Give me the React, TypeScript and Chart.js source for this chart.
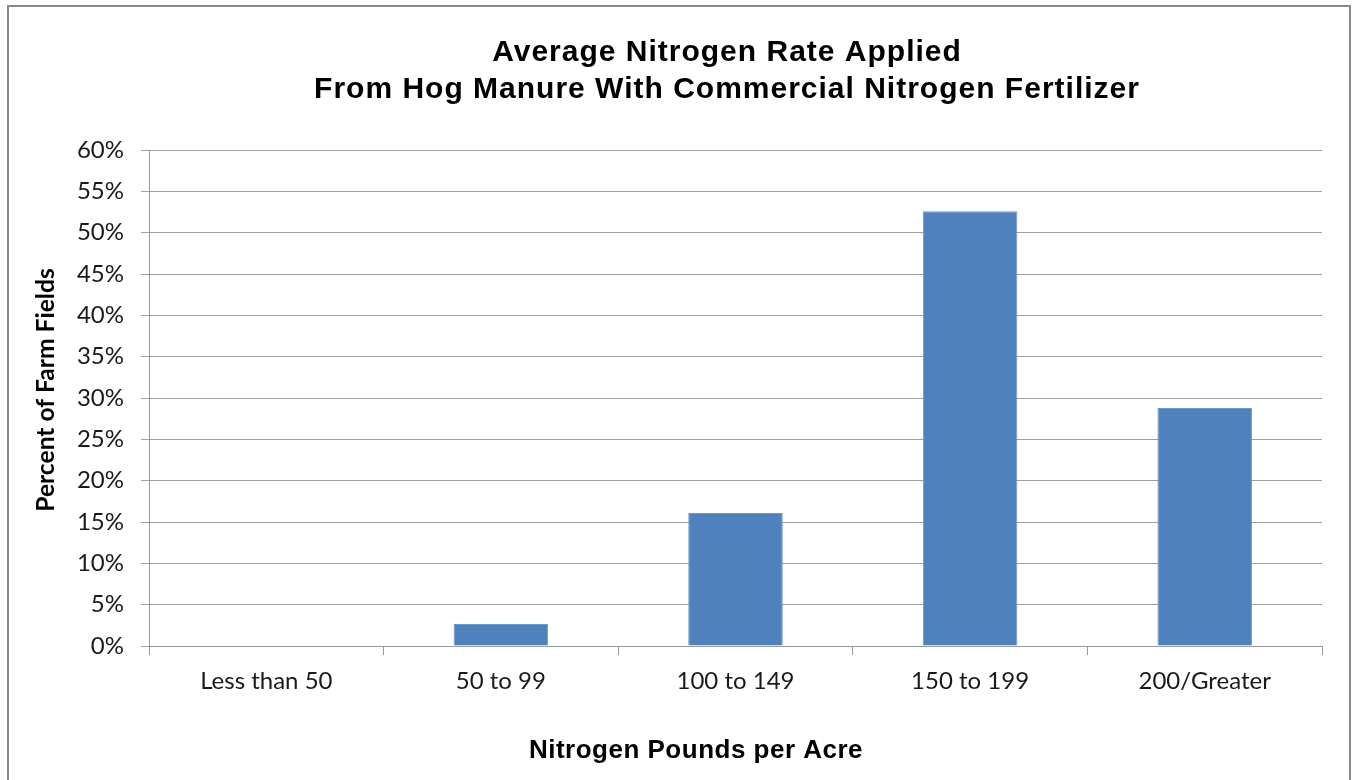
import React, { useEffect, useRef } from "react";
import { Chart, registerables } from "chart.js";

Chart.register(...registerables);

const categories = ["Less than 50", "50 to 99", "100 to 149", "150 to 199", "200/Greater"];
const percentValues = [0, 2.65, 16.1, 52.6, 28.8];
const yMin = 0;
const yMax = 60;
const yStep = 5;
const titleLines = ["Average Nitrogen Rate Applied", "From Hog Manure With Commercial Nitrogen Fertilizer"];
const xAxisTitle = "Nitrogen Pounds per Acre";
const yAxisTitle = "Percent of Farm Fields";

const W = 1355;
const H = 780;

const textPlugin = {
  id: "excelText",
  afterDraw(chart: any) {
    const ctx = chart.ctx as any;
    ctx.save();
    ctx.fillStyle = "#000";
    ctx.textAlign = "center";
    ctx.textBaseline = "alphabetic";
    ctx.letterSpacing = "1px";
    ctx.font = "bold 30px 'Liberation Sans', Arial, sans-serif";
    ctx.fillText(titleLines[0], 727, 61);
    ctx.fillText(titleLines[1], 727, 98);
    ctx.letterSpacing = "0.5px";
    ctx.font = "bold 26px 'Liberation Sans', Arial, sans-serif";
    ctx.fillText(xAxisTitle, 696, 758);
    ctx.letterSpacing = "0px";
    ctx.translate(46, 390);
    ctx.rotate(-Math.PI / 2);
    ctx.textBaseline = "middle";
    ctx.font = "bold 24.6px Lato, 'Open Sans', sans-serif";
    ctx.fillText(yAxisTitle, 0, 0);
    ctx.restore();
  },
};

export default function App() {
  const ref = useRef<HTMLCanvasElement | null>(null);
  useEffect(() => {
    if (!ref.current) return;
    const chart = new Chart(ref.current, {
      type: "bar",
      data: {
        labels: categories,
        datasets: [
          {
            data: percentValues,
            backgroundColor: "#4F81BD",
            borderColor: "#6E97CA",
            borderWidth: 1,
            barPercentage: 0.403,
            categoryPercentage: 1,
          },
        ],
      },
      plugins: [textPlugin],
      options: {
        animation: false,
        responsive: false,
        maintainAspectRatio: false,
        layout: { padding: { left: 0, right: 33, top: 150, bottom: 74 } },
        plugins: {
          legend: { display: false },
          title: { display: false },
          tooltip: { enabled: false },
        },
        scales: {
          x: {
            grid: {
              offset: true,
              drawOnChartArea: false,
              tickLength: 9,
              color: "#9a9a9a",
            },
            border: { color: "#9a9a9a", width: 1 },
            ticks: {
              color: "#1a1a1a",
              font: { family: "Lato, 'Open Sans', sans-serif", size: 24 },
              padding: 12,
              maxRotation: 0,
            },
            afterFit: (s: any) => {
              s.height = 60;
            },
          },
          y: {
            min: yMin,
            max: yMax,
            grid: { color: "#a0a0a0", tickLength: 8 },
            border: { color: "#9a9a9a", width: 1 },
            ticks: {
              stepSize: yStep,
              color: "#1a1a1a",
              font: { family: "Lato, 'Open Sans', sans-serif", size: 24 },
              padding: 17,
              callback: (v: any) => `${v}%`,
            },
            afterFit: (s: any) => {
              s.width = 149;
            },
          },
        },
      },
    });
    return () => chart.destroy();
  }, []);
  return (
    <div style={{ position: "absolute", left: 0, top: 0, width: W, height: H, background: "#fff", overflow: "hidden" }}>
      <div
        style={{
          position: "absolute",
          left: 7,
          top: 5,
          width: 1344,
          height: 800,
          border: "2px solid #8a8a8a",
          boxSizing: "border-box",
        }}
      />
      <canvas ref={ref} width={W} height={H} style={{ position: "absolute", left: 0, top: 0, width: W, height: H }} />
    </div>
  );
}
